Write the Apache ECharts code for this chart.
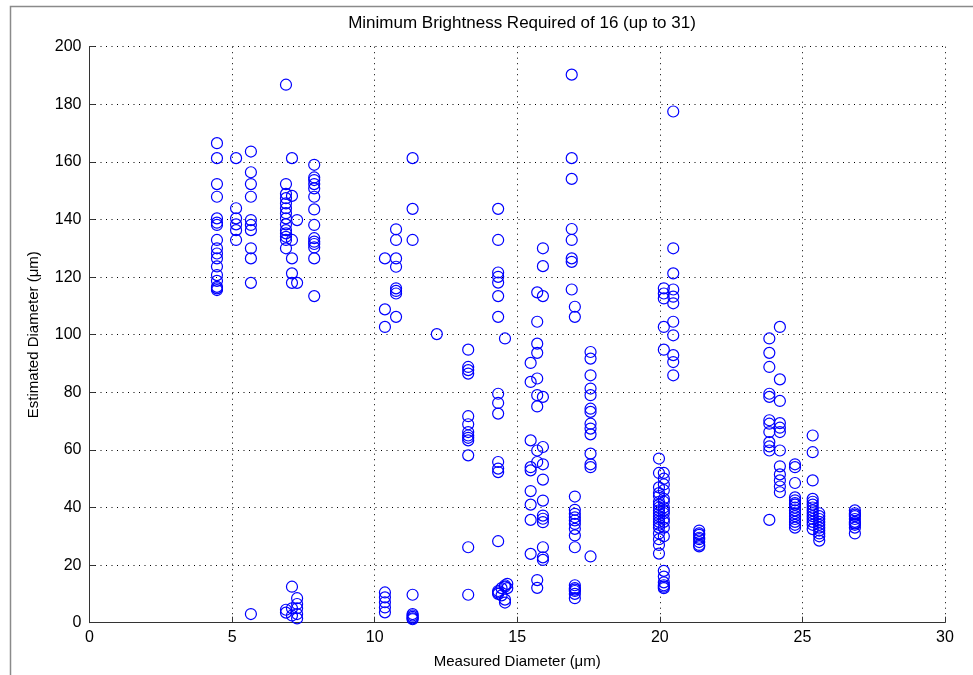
<!DOCTYPE html>
<html>
<head>
<meta charset="utf-8">
<script src="https://cdn.jsdelivr.net/npm/echarts@6/dist/echarts.min.js"></script>
<style>html,body{margin:0;padding:0;background:#fff}#c{width:973px;height:675px}</style>
</head>
<body>
<div id="c"></div>
<script>
// Measured diameter of each column of points (µm)
const measured = [4.47, 5.14, 5.66, 6.89, 7.1, 7.28, 7.88, 10.36, 10.75, 11.33, 12.18, 13.28, 14.33, 14.45, 14.57, 14.65, 15.47, 15.70, 15.9, 16.91, 17.02, 17.57, 19.97, 20.14, 20.47, 21.38, 23.84, 24.21, 24.74, 25.36, 25.59, 26.84];
// Estimated diameters for each column (µm)
const estimated = [
  [166.5, 161.3, 152.3, 147.9, 140.4, 138.9, 138.1, 132.9, 130, 128.2, 126.5, 123.7, 120.7, 118.7, 116.6, 116.1, 115.5],
  [161.3, 143.9, 140.4, 138.3, 136.3, 132.9],
  [163.6, 156.4, 152.3, 147.9, 139.8, 138.1, 136.3, 130, 126.5, 118, 3.0],
  [186.8, 152.3, 148.9, 147.4, 145.6, 143.9, 142.2, 140.4, 138.3, 136.3, 135.2, 134, 132.9, 130, 4.5, 3.5],
  [161.3, 148.2, 132.9, 126.5, 121.3, 118, 12.5, 5, 2.5],
  [139.8, 118, 8.5, 6.5, 5, 3, 1.5],
  [159, 154.6, 153.7, 152.3, 150.8, 147.9, 143.5, 138.1, 133.5, 132.3, 131.5, 130.3, 126.5, 113.4],
  [126.5, 108.8, 102.7, 10.5, 8.8, 7.1, 5.3, 3.6],
  [136.6, 132.9, 126.5, 123.6, 116.1, 115.2, 114.3, 106.2],
  [161.3, 143.7, 132.9, 9.7, 3, 2.5, 2, 1.5, 1.2],
  [100.2],
  [94.8, 88.8, 87.7, 86.5, 71.7, 68.9, 66.2, 65, 64.2, 63.3, 58.1, 26.2, 9.7],
  [143.7, 132.9, 121.6, 120.1, 118.1, 113.4, 106.2, 79.5, 76.3, 72.6, 55.8, 53.5, 52.3, 28.3, 11, 10.5, 10],
  [12, 9.5],
  [98.7, 13, 12.5, 8, 7],
  [13.5, 12],
  [90.2, 83.6, 63.3, 54, 52.9, 45.7, 41, 35.7, 23.9],
  [114.7, 104.5, 96.9, 93.7, 84.8, 79, 75.1, 59.8, 55.8, 14.8, 12.1],
  [130, 123.8, 113.4, 78.4, 61, 55, 49.7, 42.4, 37.2, 36.1, 34.9, 26.2, 22.7, 21.8],
  [190.3, 161.3, 154.1, 136.7, 132.9, 126.5, 125.3, 115.7],
  [109.7, 106.2, 43.8, 39.2, 37.8, 36.6, 35.5, 34.3, 32.6, 30.3, 26.2, 13, 12, 11.5, 11, 10, 8.5],
  [94, 91.7, 85.9, 81.3, 79, 74.3, 73.2, 69.1, 67.4, 65.4, 58.7, 55, 54, 23],
  [57, 52, 47, 45, 44, 42, 41, 40, 39, 38, 37, 36, 35, 34, 33, 31, 29, 27, 24],
  [116.1, 114.3, 112.6, 102.7, 94.8, 52, 50, 48, 46, 43, 42, 40, 39, 38, 36, 35, 33, 30, 18, 16, 14, 13, 12.5, 12],
  [177.5, 130, 121.3, 115.7, 113.2, 110.9, 104.5, 99.8, 92.9, 90.5, 85.9],
  [32, 31, 30.5, 29.5, 29, 28, 27, 26.5],
  [98.7, 93.7, 88.8, 79.5, 78.4, 70.3, 69.1, 66.2, 62.7, 61.2, 59.8, 35.7],
  [102.7, 84.5, 77, 69.3, 67.7, 66.2, 59.8, 54.3, 51.5, 49.4, 47.3, 45.3],
  [55, 54, 48.5, 43.5, 42.5, 41.5, 41, 40, 39, 38, 37, 36, 35, 34, 33],
  [65, 59.2, 49.4, 43, 42, 41, 40, 39, 38, 37, 36, 35, 34, 32.5],
  [38, 37, 36, 35, 34, 33, 32, 31, 30, 28.5],
  [39, 38, 37.5, 37, 36, 35, 34.5, 34, 33, 31]
];
const xTicks = [0, 5, 10, 15, 20, 25, 30];
const yTicks = [0, 20, 40, 60, 80, 100, 120, 140, 160, 180, 200];
const titleText = 'Minimum Brightness Required of 16 (up to 31)';
const xName = 'Measured Diameter (\u03bcm)';
const yName = 'Estimated Diameter (\u03bcm)';

const points = [];
measured.forEach((x, i) => estimated[i].forEach(y => points.push([x, y])));

const FONT = '"Liberation Sans", Arial, sans-serif';
const chart = echarts.init(document.getElementById('c'), null, {renderer: 'canvas'});
chart.setOption({
  animation: false,
  backgroundColor: '#fff',
  title: {
    text: titleText, left: 517, top: 10, textAlign: 'center',
    textStyle: {fontFamily: FONT, fontSize: 17, fontWeight: 'normal', color: '#000'}
  },
  graphic: [{
    type: 'rect', silent: true, z: -1,
    shape: {x: 10.5, y: 6.5, width: 1000, height: 700},
    style: {fill: 'none', stroke: '#8a8a8a', lineWidth: 1.5}
  }],
  grid: {left: 89.5, top: 46.7, width: 855.5, height: 576, containLabel: false},
  xAxis: {
    type: 'value', min: xTicks[0], max: xTicks[xTicks.length - 1], interval: 5,
    name: xName, nameLocation: 'middle', nameGap: 32,
    nameTextStyle: {fontFamily: FONT, fontSize: 15, color: '#000'},
    axisLine: {onZero: false, lineStyle: {color: '#333', width: 1}},
    axisTick: {inside: true, length: 6, lineStyle: {color: '#333'}},
    axisLabel: {fontFamily: FONT, fontSize: 16, color: '#000', margin: 7},
    splitLine: {show: true, lineStyle: {color: '#000', type: [1, 4.5], width: 1}}
  },
  yAxis: {
    type: 'value', min: yTicks[0], max: yTicks[yTicks.length - 1], interval: 20,
    name: yName, nameLocation: 'middle', nameGap: 48, nameRotate: 90,
    nameTextStyle: {fontFamily: FONT, fontSize: 15, color: '#000'},
    axisLine: {show: true, onZero: false, lineStyle: {color: '#333', width: 1}},
    axisTick: {show: true, inside: true, length: 6, lineStyle: {color: '#333'}},
    axisLabel: {fontFamily: FONT, fontSize: 16, color: '#000', margin: 8},
    splitLine: {show: true, lineStyle: {color: '#000', type: [1, 4.5], width: 1}}
  },
  series: [{
    type: 'scatter',
    data: points,
    symbol: 'circle',
    symbolSize: 11,
    itemStyle: {color: 'rgba(0,0,0,0)', borderColor: '#0000ff', borderWidth: 1.2, opacity: 1}
  }]
});
</script>
</body>
</html>
